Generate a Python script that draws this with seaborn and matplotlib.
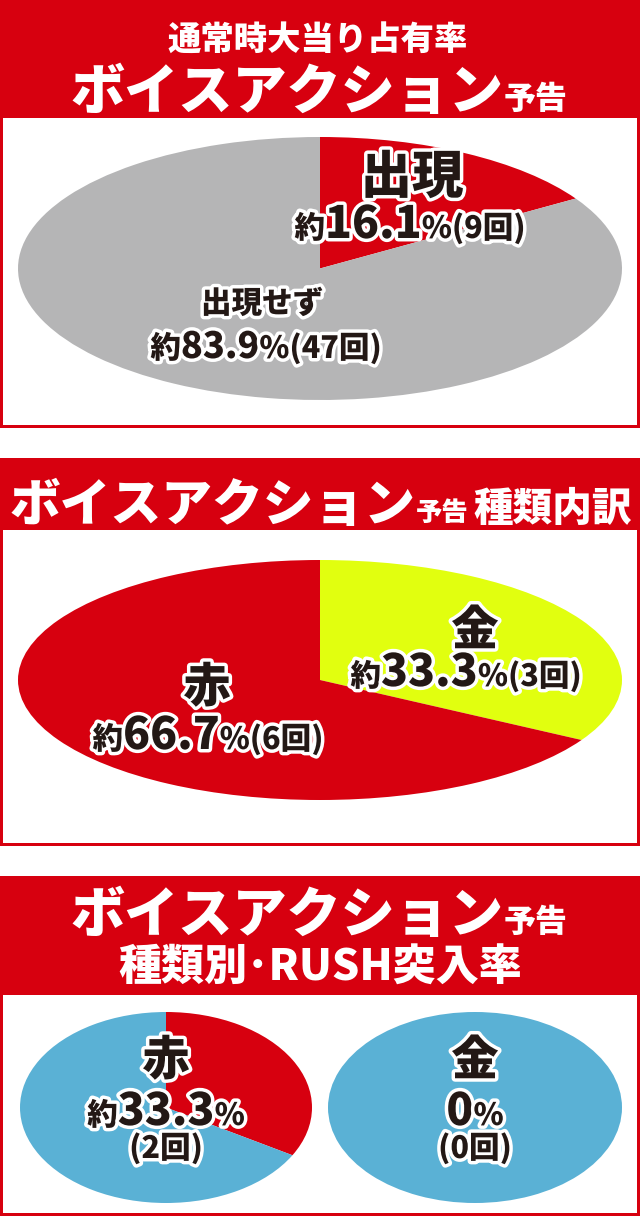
import matplotlib
matplotlib.use("Agg")
import matplotlib.pyplot as plt
import matplotlib.patheffects as pe
from matplotlib.patches import Rectangle
import seaborn as sns

sns.set_style("white")
plt.rcParams["font.family"] = ["Noto Sans CJK JP", "DejaVu Sans"]

# data
occ_labels = ["出現", "出現せず"]
occ_counts = [9, 47]
kind_labels = ["金", "赤"]
kind_counts = [3, 6]
rush_kinds = ["赤", "金"]
rush_hits = [2, 0]
rush_totals = [6, 3]

RED = "#d7000f"
GRAY = "#b5b5b6"
YELLOW = "#e1ff0f"
BLUE = "#5ab1d5"
INK = "#231815"

W, H = 640, 1216
fig = plt.figure(figsize=(W / 100, H / 100), dpi=100)

# background: red headers + white boxes
bg = fig.add_axes([0, 0, 1, 1], zorder=0)
bg.set_xlim(0, W)
bg.set_ylim(H, 0)
bg.axis("off")
for top, head, bottom in [(0, 118, 428), (458, 530, 846), (876, 995, 1216)]:
    bg.add_patch(Rectangle((0, top), W, bottom - top, color=RED, lw=0))
    bg.add_patch(Rectangle((3, head), W - 6, bottom - head - 3, color="white", lw=0))


def ellipse_pie(box, values, colors):
    x0, y0, x1, y1 = box
    ax = fig.add_axes([x0 / W, 1 - y1 / H, (x1 - x0) / W, (y1 - y0) / H], zorder=1)
    ax.pie(values, colors=colors, startangle=90, counterclock=False,
           radius=1, wedgeprops={"linewidth": 0})
    ax.set_aspect("auto")
    ax.set_xlim(-1, 1)
    ax.set_ylim(-1, 1)
    ax.axis("off")
    return ax


ellipse_pie((18, 137, 622, 400), occ_counts, sns.color_palette([RED, GRAY]))
ellipse_pie((18, 560, 622, 800), kind_counts, sns.color_palette([YELLOW, RED]))
for i, box in enumerate([(20, 1012, 312, 1203), (328, 1012, 622, 1203)]):
    ellipse_pie(box, [rush_hits[i], rush_totals[i] - rush_hits[i]],
                sns.color_palette([RED, BLUE]))

# text layer
tx = fig.add_axes([0, 0, 1, 1], zorder=2)
tx.set_xlim(0, W)
tx.set_ylim(H, 0)
tx.axis("off")
renderer = fig.canvas.get_renderer()


def rich(x, y, parts, color=INK, outline=True):
    # parts: (text, size) pieces laid side by side on one baseline, centred on x
    items = []
    for s, size in parts:
        t = tx.text(0, y, s, fontsize=size, fontweight="heavy", color=color,
                    ha="left", va="baseline")
        if outline:
            t.set_path_effects([pe.withStroke(linewidth=5, foreground="white")])
        items.append((t, t.get_window_extent(renderer).width))
    cur = x - sum(w for _, w in items) / 2
    for t, w in items:
        t.set_x(cur)
        cur += w


def pct(n, total):
    return f"{100 * n / total:.1f}"


# headers
rich(318, 50, [("通常時大当り占有率", 24)], color="white", outline=False)
rich(319, 109, [("ボイスアクション", 39), ("予告", 23)], color="white", outline=False)
rich(321, 521, [("ボイスアクション", 36.5), ("予告", 19), (" ", 17), ("種類内訳", 28.5)],
     color="white", outline=False)
rich(319, 932, [("ボイスアクション", 39), ("予告", 23)], color="white", outline=False)
rich(320, 981, [("種類別･RUSH突入率", 31)], color="white", outline=False)

# panel 1 labels
n_occ = sum(occ_counts)
rich(412, 193, [(occ_labels[0], 37)])
rich(410, 238, [("約", 22), (pct(occ_counts[0], n_occ), 32), ("%", 22),
                (f"({occ_counts[0]}回)", 22)])
rich(262, 313, [(occ_labels[1], 22)])
rich(266, 358, [("約", 22), (pct(occ_counts[1], n_occ), 26), ("%", 22),
                (f"({occ_counts[1]}回)", 22)])

# panel 2 labels
n_kind = sum(kind_counts)
rich(475, 645, [(kind_labels[0], 34)])
rich(466, 686, [("約", 22), (pct(kind_counts[0], n_kind), 32), ("%", 22),
                (f"({kind_counts[0]}回)", 22)])
rich(207, 702, [(kind_labels[1], 34)])
rich(208, 749, [("約", 22), (pct(kind_counts[1], n_kind), 32), ("%", 22),
                (f"({kind_counts[1]}回)", 22)])

# panel 3 labels
for cx, kind, hit, tot in zip([166, 475], rush_kinds, rush_hits, rush_totals):
    rich(cx, 1075, [(kind, 34)])
    if hit:
        rich(cx, 1125, [("約", 22), (pct(hit, tot), 32), ("%", 22)])
    else:
        rich(cx, 1125, [(f"{hit}", 32), ("%", 22)])
    rich(cx, 1158, [(f"({hit}回)", 22)])

fig.savefig("out.png", dpi=100)
